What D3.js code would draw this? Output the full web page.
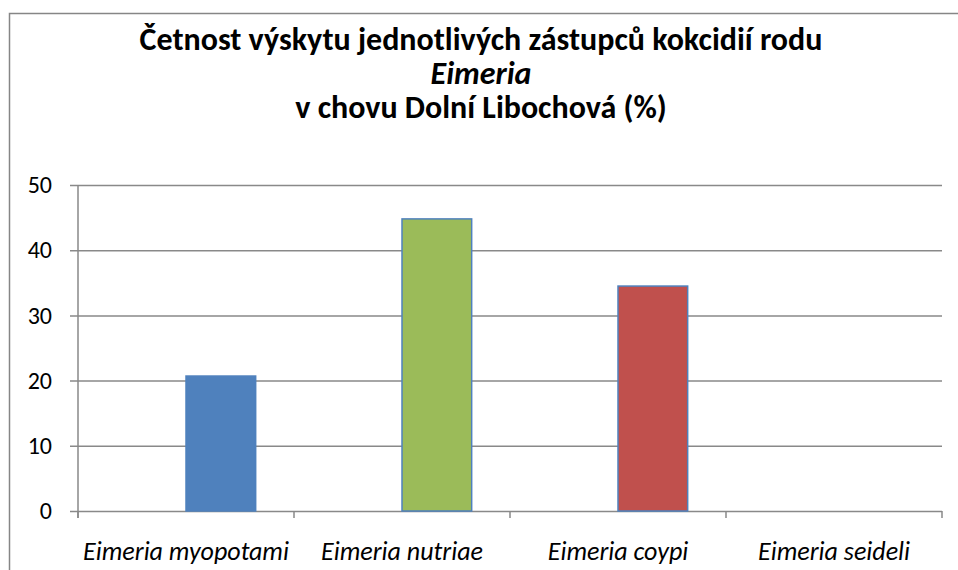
<!DOCTYPE html>
<html>
<head>
<meta charset="utf-8">
<script src="https://cdn.jsdelivr.net/npm/d3@7"></script>
<style>
  body { margin: 0; background: #fff; }
  svg { display: block; font-family: Carlito, Calibri, Lato, sans-serif; }
</style>
</head>
<body>
<svg id="chart" width="958" height="570"></svg>
<script>
// chart data
const categories = ['Eimeria myopotami', 'Eimeria nutriae', 'Eimeria coypi', 'Eimeria seideli'];
const values = [20.7, 44.8, 34.5, 0];
const barColors = ['#4F81BD', '#9BBB59', '#C0504D', '#8064A2'];
const yTicks = [0, 10, 20, 30, 40, 50];
const titleLines = ['Četnost výskytu jednotlivých zástupců kokcidií rodu', 'Eimeria', 'v chovu Dolní Libochová (%)'];

const width = 958;
const height = 570;
const margin = { top: 185, right: 16, bottom: 59, left: 78 };

const svg = d3.select('#chart');

// outer chart border (left + top only visible)
svg.append('path')
  .attr('d', `M9.5,${height} V13.5 H${width}`)
  .attr('fill', 'none')
  .attr('stroke', '#868686')
  .attr('stroke-width', 1.5);

const x = d3.scaleBand()
  .domain(categories)
  .range([margin.left, width - margin.right]);

// bar sits in the right half of a two-slot group
const xSlot = d3.scaleBand()
  .domain(['empty', 'bar'])
  .range([0, x.bandwidth()])
  .paddingOuter(0.55);

const y = d3.scaleLinear()
  .domain([0, 50])
  .range([height - margin.bottom, margin.top]);

// gridlines + y ticks
const yAxis = svg.append('g')
  .attr('transform', `translate(${margin.left},0)`)
  .call(d3.axisLeft(y).tickValues(yTicks).tickSize(8).tickPadding(18));
yAxis.select('.domain').remove();
yAxis.selectAll('.tick line')
  .attr('x2', width - margin.right - margin.left)
  .attr('x1', -8);
yAxis.selectAll('line').attr('stroke', '#898989').attr('stroke-width', 1.5);
yAxis.selectAll('text')
  .attr('fill', '#000')
  .style('font-size', '24px')
  .style('font-family', 'Carlito, Calibri, Lato, sans-serif');

// y axis line
svg.append('line')
  .attr('x1', margin.left).attr('x2', margin.left)
  .attr('y1', y(50)).attr('y2', y(0) + 7)
  .attr('stroke', '#898989').attr('stroke-width', 1.5);

// bars
svg.selectAll('rect.bar')
  .data(values)
  .enter()
  .append('rect')
  .attr('class', 'bar')
  .attr('x', (d, i) => x(categories[i]) + xSlot('bar'))
  .attr('y', (d) => y(d))
  .attr('width', xSlot.bandwidth())
  .attr('height', (d) => y(0) - y(d))
  .attr('fill', (d, i) => barColors[i])
  .attr('stroke', (d) => d > 0 ? '#4F81BD' : 'none')
  .attr('stroke-width', 1.5);

// x axis ticks at category boundaries
const bounds = categories.map((c) => x(c)).concat([x.range()[1]]);
svg.selectAll('line.xtick')
  .data(bounds)
  .enter()
  .append('line')
  .attr('class', 'xtick')
  .attr('x1', (d) => d).attr('x2', (d) => d)
  .attr('y1', y(0)).attr('y2', y(0) + 7)
  .attr('stroke', '#898989').attr('stroke-width', 1.5);

svg.selectAll('text.xlabel')
  .data(categories)
  .enter()
  .append('text')
  .attr('class', 'xlabel')
  .attr('x', (d) => x(d) + x.bandwidth() / 2)
  .attr('y', y(0) + 49)
  .attr('text-anchor', 'middle')
  .style('font-size', '26px')
  .style('font-style', 'italic')
  .text((d) => d);

// title
const title = svg.append('text')
  .attr('text-anchor', 'middle')
  .style('font-size', '32px')
  .style('font-weight', 'bold');
titleLines.forEach((t, i) => {
  title.append('tspan')
    .attr('x', 481)
    .attr('y', 50 + i * 34)
    .style('font-style', i === 1 ? 'italic' : 'normal')
    .text(t);
});
</script>
</body>
</html>
